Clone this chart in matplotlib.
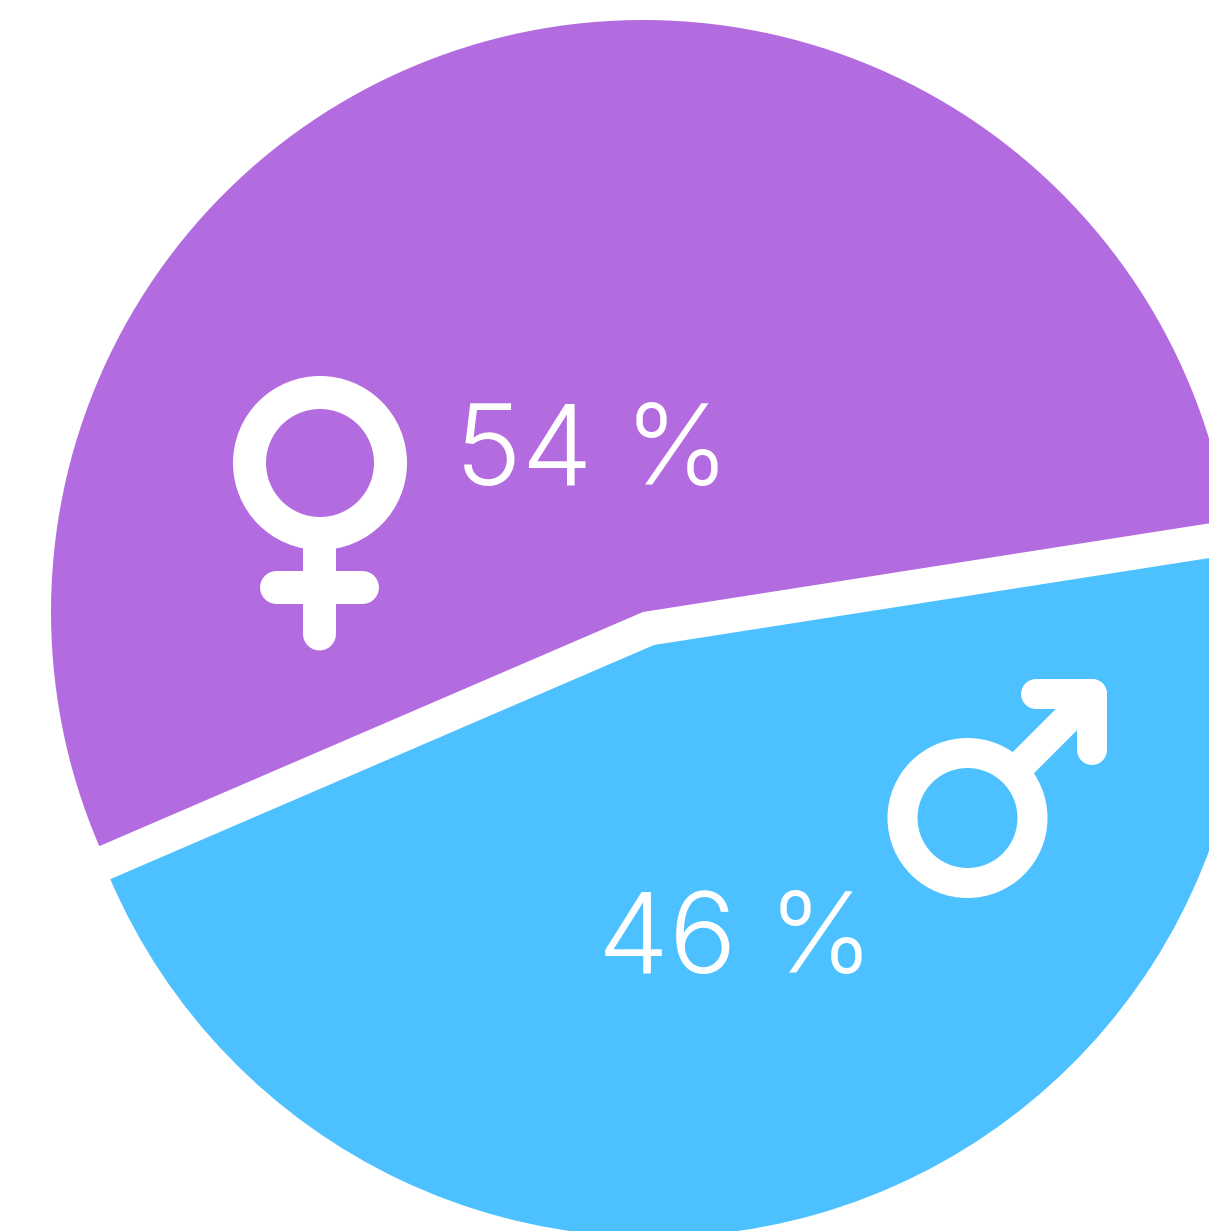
#!/usr/bin/env python3
import matplotlib

matplotlib.use("Agg")
import matplotlib.pyplot as plt
from matplotlib.patches import Circle

WIDTH = 1209
HEIGHT = 1231

labels = ["54 %", "46 %"]
shares = [54, 46]
colors = ["#B36BE0", "#4DC1FF"]

PX = 72 / 100  # points per pixel at dpi=100


def y_(py):
    # picture y (from top) to axis y
    return HEIGHT - py


def stroke(ax, xs, ys, width):
    ax.plot(
        xs,
        [y_(v) for v in ys],
        color="white",
        linewidth=width * PX,
        solid_capstyle="round",
        solid_joinstyle="round",
        snap=False,
    )


def ring(ax, x, y, r_mid, width):
    ax.add_patch(
        Circle((x, y_(y)), r_mid, facecolor="none", edgecolor="white", linewidth=width * PX)
    )


fig = plt.figure(figsize=(WIDTH / 100, HEIGHT / 100), dpi=100)
ax = fig.add_axes([0, 0, 1, 1])

wedges, _ = ax.pie(
    shares,
    colors=colors,
    startangle=8.9,
    center=(643, y_(612)),
    radius=592,
    frame=True,
)
# the blue slice is pulled away from the purple one
wedges[1].set_center((654, y_(645)))
ax.set_xlim(0, WIDTH)
ax.set_ylim(0, HEIGHT)
ax.set_aspect("equal")
ax.axis("off")

# female sign
ring(ax, 320, 463, 70.5, 33)
stroke(ax, [319.5, 319.5], [540, 634], 33)
stroke(ax, [276.5, 362.5], [587.5, 587.5], 33)

# male sign
ring(ax, 967.5, 818, 65, 30)
stroke(ax, [1015, 1092], [771, 694], 30)
stroke(ax, [1036, 1092, 1092], [694, 694, 750], 30)

font = dict(color="white", fontsize=81, family="Inter", weight=300)
ax.text(455, y_(485), labels[0], ha="left", va="baseline", **font)
ax.text(598, y_(973), labels[1], ha="left", va="baseline", **font)

fig.savefig("out.png", dpi=100)
